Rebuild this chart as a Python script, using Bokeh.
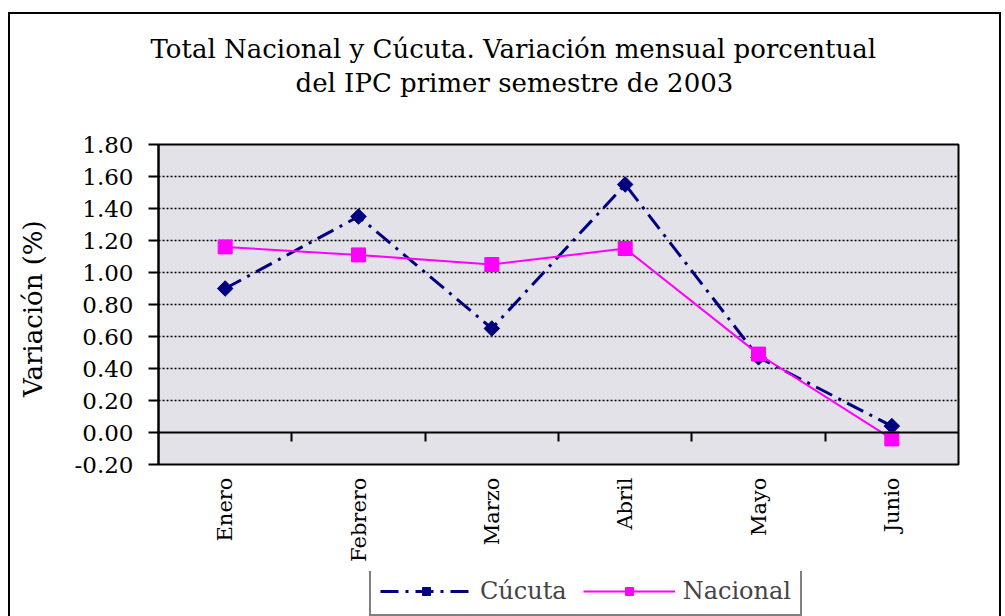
import numpy as np
from bokeh.plotting import figure
from bokeh.layouts import column
from bokeh.models import (Range1d, FixedTicker, LinearAxis, Legend, LegendItem,
                          PrintfTickFormatter, Title)
from bokeh.embed import file_html
from bokeh.resources import INLINE

# ---- data ----
meses = ["Enero", "Febrero", "Marzo", "Abril", "Mayo", "Junio"]
cucuta = [0.90, 1.35, 0.65, 1.55, 0.47, 0.04]
nacional = [1.16, 1.11, 1.05, 1.15, 0.49, -0.04]
y_ticks = [-0.20, 0.00, 0.20, 0.40, 0.60, 0.80, 1.00, 1.20, 1.40, 1.60, 1.80]
titulo_1 = "Total Nacional y Cúcuta.  Variación mensual porcentual"
titulo_2 = "del IPC primer semestre de 2003"
y_label = "Variación  (%)"
series_names = ["Cúcuta", "Nacional"]

FONT = "DejaVu Serif"
NAVY = "#000080"
MAGENTA = "#ff00ff"
x = [i + 0.5 for i in range(len(meses))]

p = figure(width=989, height=557,
           x_range=Range1d(0, len(meses)), y_range=Range1d(y_ticks[0], y_ticks[-1]),
           output_backend="svg", toolbar_location=None, title=None,
           min_border_left=148, min_border_right=41, min_border_top=130, min_border_bottom=107,
           background_fill_color="#e2e2e8", border_fill_color="white",
           outline_line_color="black", outline_line_width=2)

# titles: blank spacer nearest the frame, then second line, then first line
t0 = Title(text=" ", text_font_size="1px", standoff=42)
t2 = Title(text=titulo_2, align="left", offset=137, text_font=FONT, text_font_size="26px",
           text_font_style="normal", text_color="black", standoff=4)
t1 = Title(text=titulo_1, align="left", offset=-8, text_font=FONT, text_font_size="26px",
           text_font_style="normal", text_color="black", standoff=0)
p.add_layout(t0, "above")
p.add_layout(t2, "above")
p.add_layout(t1, "above")

# y axis
p.yaxis.ticker = FixedTicker(ticks=y_ticks)
p.yaxis.formatter = PrintfTickFormatter(format="%.2f")
p.yaxis.major_label_text_font = FONT
p.yaxis.major_label_text_font_size = "23px"
p.yaxis.major_label_text_color = "black"
p.yaxis.major_tick_out = 10
p.yaxis.major_tick_in = 0
p.yaxis.minor_tick_out = 0
p.yaxis.minor_tick_in = 0
p.yaxis.axis_line_width = 2
p.yaxis.major_tick_line_width = 2
p.yaxis.major_label_standoff = 15
p.yaxis.axis_label = y_label
p.yaxis.axis_label_text_font = FONT
p.yaxis.axis_label_text_font_size = "26px"
p.yaxis.axis_label_text_font_style = "normal"
p.yaxis.axis_label_text_color = "black"
p.yaxis.axis_label_standoff = 24

# grid
p.xgrid.visible = False
p.ygrid.ticker = FixedTicker(ticks=[t for t in y_ticks if t > 0])
p.ygrid.grid_line_color = "black"
p.ygrid.grid_line_width = 1.5
p.ygrid.grid_line_dash = "2 2"

# x axis with month labels (below frame)
p.xaxis.ticker = FixedTicker(ticks=x)
p.xaxis.major_label_overrides = {xi: m for xi, m in zip(x, meses)}
p.xaxis.major_label_orientation = np.pi / 2
p.xaxis.axis_line_color = None
p.xaxis.major_tick_line_color = None
p.xaxis.minor_tick_line_color = None
p.xaxis.major_tick_out = 0
p.xaxis.major_label_standoff = 13
p.xaxis.major_label_text_font = FONT
p.xaxis.major_label_text_font_size = "21px"
p.xaxis.major_label_text_color = "black"

# crossing category axis at y = 0 (ticks pointing down)
ax0 = LinearAxis(fixed_location=0, ticker=FixedTicker(ticks=list(range(1, len(meses)))),
                 major_label_text_color=None, major_label_text_font_size="0px",
                 major_label_standoff=0,
                 axis_line_width=2, major_tick_line_width=2,
                 major_tick_out=9, major_tick_in=0, minor_tick_out=0, minor_tick_in=0)
p.add_layout(ax0, "below")


def draw_series(fig):
    a = fig.line(x, cucuta, line_color=NAVY, line_width=3, line_dash="18 7 3 7")
    b = fig.scatter(x, cucuta, marker="square", angle=np.pi / 4, size=11,
                    fill_color=NAVY, line_color=NAVY)
    c = fig.line(x, nacional, line_color=MAGENTA, line_width=2)
    d = fig.scatter(x, nacional, marker="square", size=14,
                    fill_color=MAGENTA, line_color=MAGENTA)
    return a, b, c, d


draw_series(p)

# legend strip below the chart (its glyphs use the same series, outside its visible range)
lf = figure(width=989, height=45, x_range=Range1d(1000, 1001), y_range=Range1d(1000, 1001),
            output_backend="svg", toolbar_location=None, title=None,
            x_axis_location=None, y_axis_location=None,
            min_border=0, outline_line_color=None, background_fill_color="white",
            border_fill_color="white")
lf.grid.visible = False
l1, l2, l3, l4 = draw_series(lf)
legend = Legend(items=[LegendItem(label=series_names[0], renderers=[l1, l2]),
                       LegendItem(label=series_names[1], renderers=[l3, l4])],
                orientation="horizontal", location=(211, 0),
                glyph_width=92, glyph_height=20,
                label_text_font=FONT, label_text_font_size="24px",
                border_line_color="black", border_line_width=2,
                background_fill_color="white", background_fill_alpha=1,
                padding=9, spacing=16, label_standoff=8, margin=0)
lf.add_layout(legend)

layout = column(p, lf, spacing=0)
layout.styles = {"margin-left": "8px", "margin-top": "12px",
                 "border-left": "2px solid black", "border-top": "2px solid black",
                 "border-right": "2px solid black"}

open("out.html", "w").write(file_html(layout, INLINE))
